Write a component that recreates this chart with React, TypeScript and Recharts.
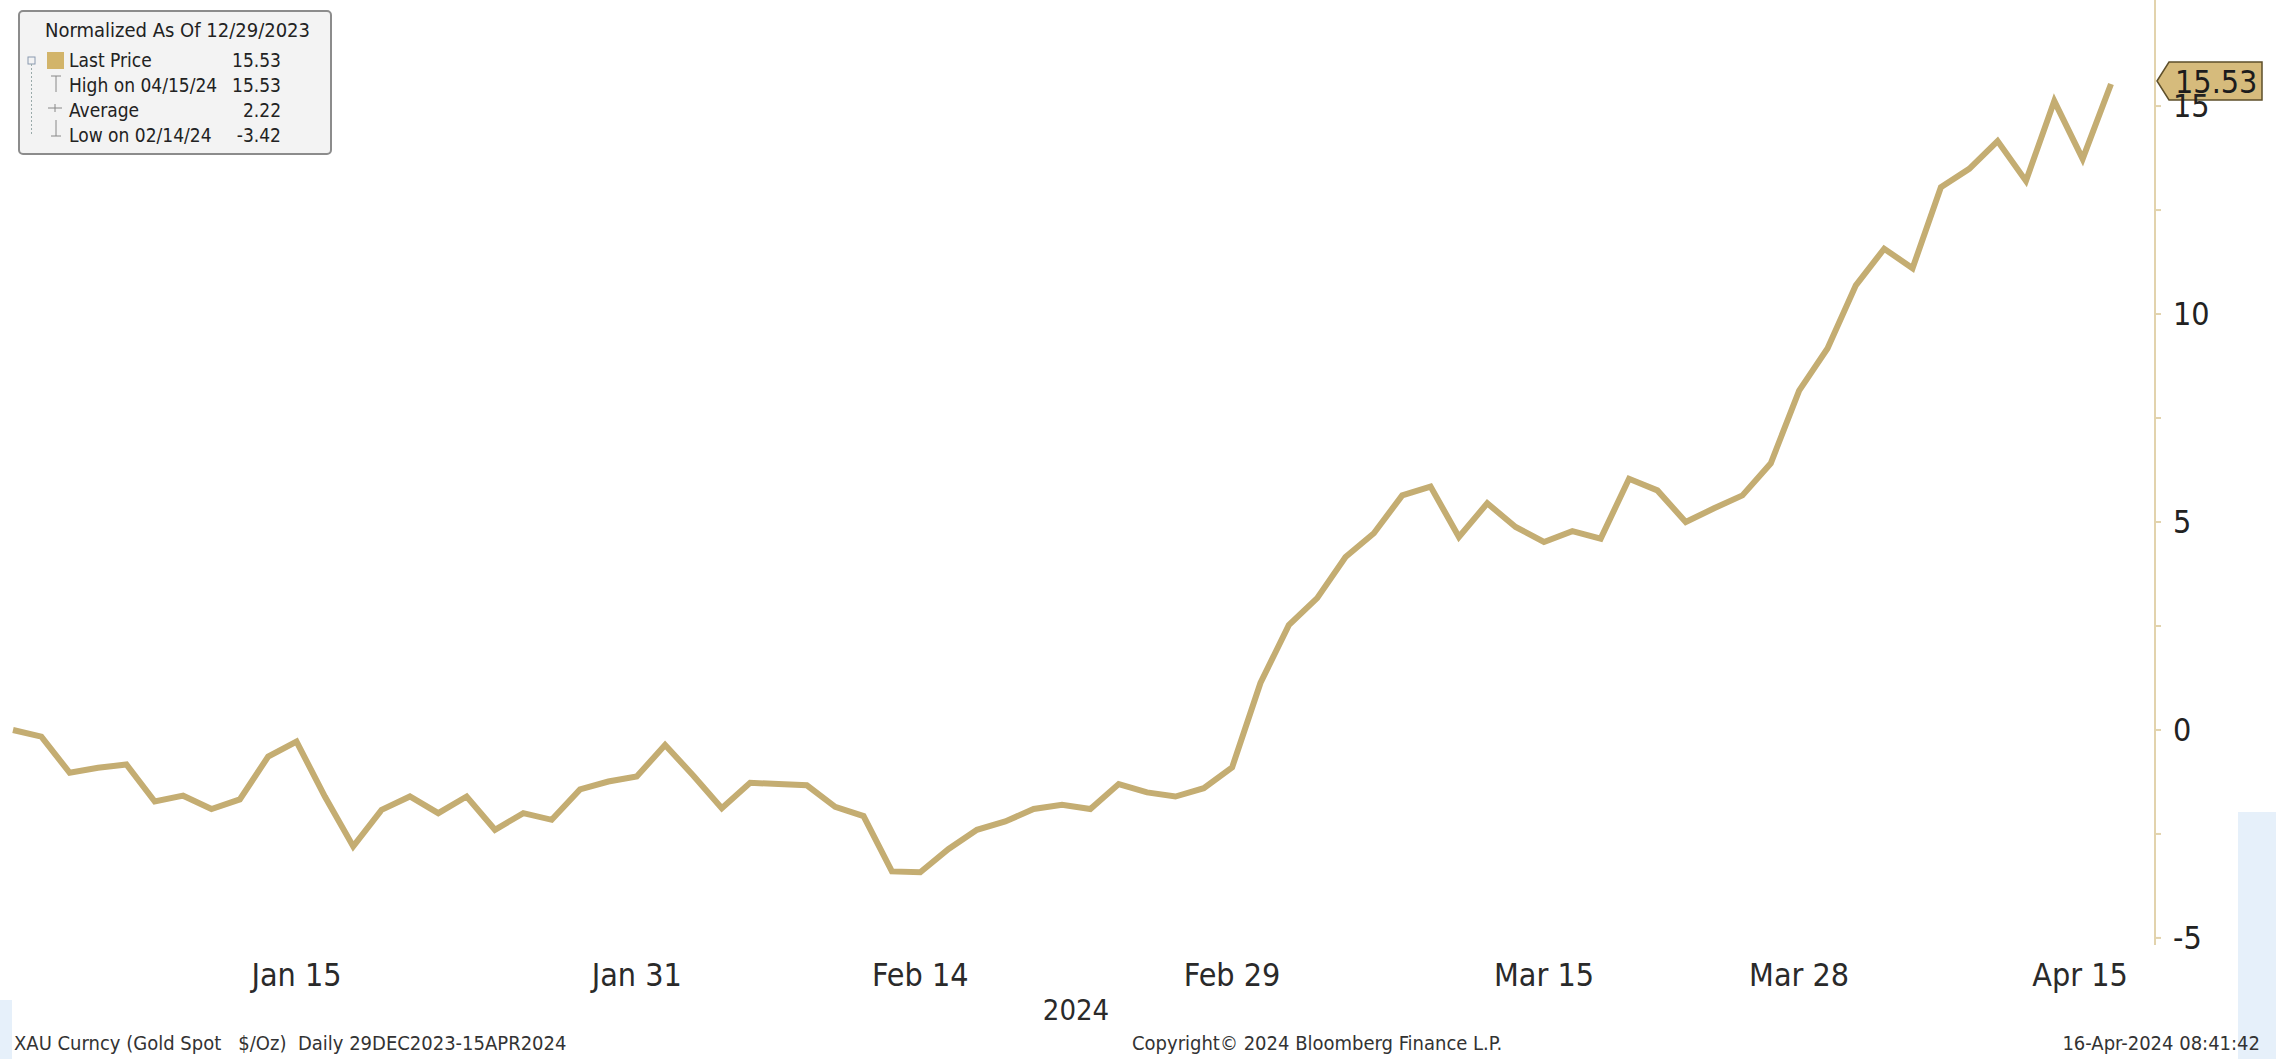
import React from 'react';
import { LineChart, Line, XAxis, YAxis, ReferenceLine } from 'recharts';

// trading days shown (no Jan 1 / Good Friday)
const decDays = [29];
const janDays = [2, 3, 4, 5, 8, 9, 10, 11, 12, 15, 16, 17, 18, 19, 22, 23, 24, 25, 26, 29, 30, 31];
const febDays = [1, 2, 5, 6, 7, 8, 9, 12, 13, 14, 15, 16, 19, 20, 21, 22, 23, 26, 27, 28, 29];
const marDays = [1, 4, 5, 6, 7, 8, 11, 12, 13, 14, 15, 18, 19, 20, 21, 22, 25, 26, 27, 28];
const aprDays = [1, 2, 3, 4, 5, 8, 9, 10, 11, 12, 15];

// gold spot, % change normalized to 12/29/2023
const decValues = [0];
const janValues = [-0.16, -1.03, -0.91, -0.83, -1.72, -1.58, -1.9, -1.67, -0.64, -0.28, -1.6, -2.8, -1.92, -1.6, -2.0, -1.6, -2.4, -2.0, -2.16, -1.43, -1.24, -1.12];
const febValues = [-0.36, -1.1, -1.88, -1.27, -1.3, -1.33, -1.85, -2.07, -3.4, -3.42, -2.86, -2.4, -2.2, -1.9, -1.8, -1.9, -1.3, -1.5, -1.6, -1.4, -0.9];
const marValues = [1.13, 2.52, 3.17, 4.16, 4.73, 5.64, 5.85, 4.64, 5.45, 4.88, 4.52, 4.78, 4.6, 6.04, 5.76, 5.0, 5.33, 5.64, 6.41, 8.16];
const aprValues = [9.17, 10.69, 11.57, 11.1, 13.05, 13.49, 14.16, 13.2, 15.12, 13.73, 15.53];

const xTicks = ['Jan 15', 'Jan 31', 'Feb 14', 'Feb 29', 'Mar 15', 'Mar 28', 'Apr 15'];
const yTicks = [-5, -2.5, 0, 2.5, 5, 7.5, 10, 12.5, 15];
const lastPrice = 15.53;

const months: [string, number[], number[]][] = [
  ['Dec', decDays, decValues],
  ['Jan', janDays, janValues],
  ['Feb', febDays, febValues],
  ['Mar', marDays, marValues],
  ['Apr', aprDays, aprValues],
];

const data = months.flatMap(([m, days, vals]) =>
  days.map((d, i) => ({ date: `${m} ${d}`, value: vals[i] }))
);

const FONT = "'DejaVu Sans Condensed', 'DejaVu Sans', sans-serif";
const GOLD = '#c4ad72';
const AXIS = '#e2d3ad';

function XTick({ x, y, payload }: any) {
  const shift = payload.value === 'Apr 15' ? -31 : 0;
  return (
    <text x={x + shift} y={y} textAnchor="middle" dominantBaseline="central"
      fontFamily={FONT} fontSize={32} fill="#2a2a2a">
      {payload.value}
    </text>
  );
}

function YTick({ x, y, payload }: any) {
  const major = payload.value % 5 === 0;
  return (
    <g>
      <line x1={x} x2={x + 6} y1={y} y2={y} stroke={AXIS} strokeWidth={2} />
      {major && (
        <text x={x + 18} y={y} dominantBaseline="central" fontFamily={FONT}
          fontSize={32} fill="#222">
          {payload.value}
        </text>
      )}
    </g>
  );
}

function PriceTag({ viewBox }: any) {
  const ax = viewBox.x + viewBox.width;
  const cy = viewBox.y - 3;
  const pts = `${ax + 2},${cy} ${ax + 14},${cy - 19} 2262,${cy - 19} 2262,${cy + 19} ${ax + 14},${cy + 19}`;
  return (
    <g>
      <polygon points={pts} fill="#d6bb7c" stroke="#5e4f2a" strokeWidth={1.5} />
      <text x={ax + 20} y={cy + 1} dominantBaseline="central" fontFamily={FONT}
        fontSize={32} fill="#1c1c1c">
        {lastPrice.toFixed(2)}
      </text>
    </g>
  );
}

const legendRows = [
  { label: 'Last Price', value: '15.53' },
  { label: 'High on 04/15/24', value: '15.53' },
  { label: 'Average', value: '2.22' },
  { label: 'Low on 02/14/24', value: '-3.42' },
];

function Legend() {
  return (
    <div style={{
      position: 'absolute', left: 18, top: 10, width: 310, height: 141,
      border: '2px solid #8c8c8c', borderRadius: 5, background: '#f3f3f3',
      fontFamily: FONT, fontSize: 19, color: '#222',
    }}>
      <svg width={44} height={141} style={{ position: 'absolute', left: 0, top: 0 }}>
        <rect x={8} y={45} width={7} height={7} fill="none" stroke="#8a9ab0" strokeWidth={1} />
        <line x1={11.5} x2={11.5} y1={52} y2={122} stroke="#9aa" strokeWidth={1} strokeDasharray="2 2" />
        <rect x={27} y={40} width={17} height={17} fill="#d2b46a" />
        <line x1={31} x2={41} y1={64} y2={64} stroke="#888" />
        <line x1={36} x2={36} y1={64} y2={80} stroke="#888" />
        <line x1={28} x2={42} y1={96} y2={96} stroke="#888" />
        <line x1={35} x2={35} y1={92} y2={100} stroke="#888" />
        <line x1={36} x2={36} y1={108} y2={124} stroke="#888" />
        <line x1={31} x2={41} y1={124} y2={124} stroke="#888" />
      </svg>
      <div style={{ position: 'absolute', left: 25, top: 6, lineHeight: '24px', whiteSpace: 'nowrap', fontSize: 20 }}>
        Normalized As Of 12/29/2023
      </div>
      {legendRows.map((r, i) => (
        <div key={r.label} style={{
          position: 'absolute', left: 49, top: 36 + i * 25, width: 212,
          display: 'flex', justifyContent: 'space-between', lineHeight: '24px',
          whiteSpace: 'nowrap',
        }}>
          <span>{r.label}</span>
          <span>{r.value}</span>
        </div>
      ))}
    </div>
  );
}

export default function App() {
  return (
    <div style={{
      position: 'fixed', left: 0, top: 0, width: 2276, height: 1059,
      background: '#ffffff', overflow: 'hidden', fontFamily: FONT,
    }}>
      <div style={{ position: 'absolute', left: 2238, top: 812, width: 40, height: 250, background: '#e6f0fa' }} />
      <div style={{ position: 'absolute', left: 0, top: 1000, width: 12, height: 60, background: '#e6f0fa' }} />
      <LineChart width={2276} height={1059} data={data}
        margin={{ top: 0, right: 0, bottom: 0, left: 13 }}
        style={{ position: 'absolute', left: 0, top: 0 }}>
        <XAxis dataKey="date" ticks={xTicks} interval={0} height={114}
          axisLine={false} tickLine={false} tickSize={0} tickMargin={30}
          padding={{ left: 0, right: 44 }} tick={<XTick />} />
        <YAxis orientation="right" width={121} domain={[-5.17, 17.55]}
          ticks={yTicks} interval={0} allowDataOverflow
          axisLine={{ stroke: AXIS, strokeWidth: 2 }} tickLine={false}
          tickSize={0} tickMargin={0} tick={<YTick />} />
        <Line type="linear" dataKey="value" stroke={GOLD} strokeWidth={6}
          dot={false} isAnimationActive={false} strokeLinejoin="miter" />
        <ReferenceLine y={lastPrice} stroke="none" ifOverflow="visible"
          label={<PriceTag />} />
      </LineChart>
      <Legend />
      <div style={{ position: 'absolute', left: 1036, top: 993, width: 80, textAlign: 'center', fontSize: 29, color: '#2a2a2a' }}>
        2024
      </div>
      <div style={{ position: 'absolute', left: 14, top: 1031, fontSize: 20, color: '#333', whiteSpace: 'pre' }}>
        {'XAU Curncy (Gold Spot   $/Oz)  Daily 29DEC2023-15APR2024'}
      </div>
      <div style={{ position: 'absolute', left: 1132, top: 1031, fontSize: 20, color: '#333', whiteSpace: 'nowrap' }}>
        Copyright© 2024 Bloomberg Finance L.P.
      </div>
      <div style={{ position: 'absolute', right: 16, top: 1031, fontSize: 20, color: '#333', whiteSpace: 'nowrap' }}>
        16-Apr-2024 08:41:42
      </div>
    </div>
  );
}
